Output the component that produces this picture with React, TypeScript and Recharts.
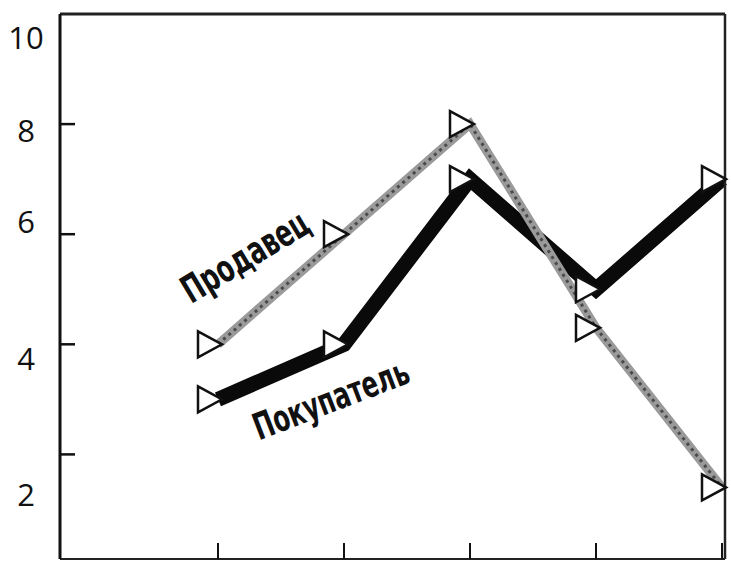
import React from 'react';
import { LineChart, Line, XAxis, YAxis, ReferenceDot, ReferenceLine } from 'recharts';

const categories = ['1', '2', '3', '4', '5'];
const buyerValues = [3, 4, 7, 5, 7];
const sellerValues = [4, 6, 8, 4.3, 1.4];
const yTicks = [2, 4, 6, 8, 10];
const sellerLabel = 'Продавец';
const buyerLabel = 'Покупатель';

const data = categories.map((c, i) => ({ cat: c, buyer: buyerValues[i], seller: sellerValues[i] }));

const labelOffsets: Record<number, number> = { 10: 23, 8: 6, 6: -13, 4: 14, 2: 40 };
const PLOT_LEFT = 60;
const PLOT_BOTTOM = 559;

const YTick = (props: any) => {
  const v = props.payload.value;
  const ty = props.y;
  return (
    <g>
      {v !== 10 && <line x1={PLOT_LEFT} x2={PLOT_LEFT + 15} y1={ty} y2={ty} stroke="#111" strokeWidth={2.5} />}
      <text x={26} y={ty + (labelOffsets[v] ?? 0)} textAnchor="middle" dominantBaseline="central"
        fontFamily="'Open Sans', sans-serif" fontSize={31} fill="#111">{String(v)}</text>
    </g>
  );
};

const XTick = (props: any) => (
  <line x1={props.x} x2={props.x} y1={PLOT_BOTTOM} y2={PLOT_BOTTOM - 16} stroke="#111" strokeWidth={2} />
);

const Tri = (props: any) => {
  const { cx, cy, index } = props;
  if (cx == null || cy == null) return <g key={'k' + index} />;
  const pts = `${cx + 4},${cy} ${cx - 20},${cy - 13} ${cx - 20},${cy + 13}`;
  return <polygon key={'t' + index} points={pts} fill="#fff" stroke="#111" strokeWidth={2.5} strokeLinejoin="miter" />;
};

const RotText = (text: string, dx: number, angle: number, size: number, sx: number) => (props: any) => {
  const x = props.cx + dx;
  const y = props.cy;
  return (
    <g transform={`translate(${x}, ${y}) rotate(${angle}) scale(${sx}, 1)`}>
      <text x={0} y={0} textAnchor="middle" dominantBaseline="central"
        fontFamily="'DejaVu Sans Condensed', 'DejaVu Sans', sans-serif" fontWeight="bold" fontSize={size} fill="#111">{text}</text>
    </g>
  );
};

export default function App() {
  return (
    <div style={{ position: 'absolute', left: 0, top: 0, width: 731, height: 561, background: '#fff' }}>
      <LineChart width={731} height={561} data={data} margin={{ top: 14, right: 5, bottom: 1, left: 0 }}>
        <XAxis dataKey="cat" type="category" padding={{ left: 158, right: 3 }} height={1}
          tick={<XTick />} tickLine={false}
          axisLine={{ stroke: '#222', strokeWidth: 2 }} />
        <YAxis domain={[0.1, 10]} ticks={yTicks} width={60} allowDataOverflow
          tick={<YTick />} tickLine={false}
          axisLine={{ stroke: '#111', strokeWidth: 3 }} />
        <YAxis yAxisId="r" orientation="right" width={1} domain={[0, 10]} tick={false} tickLine={false}
          axisLine={{ stroke: '#222', strokeWidth: 2.5 }} />
        <ReferenceLine y={10} stroke="#222" strokeWidth={3} />
        <Line dataKey="buyer" stroke="#0a0a0a" strokeWidth={15} strokeLinejoin="miter" isAnimationActive={false} dot={false} activeDot={false} />
        <Line dataKey="seller" stroke="#9a9a9a" strokeWidth={9} isAnimationActive={false} dot={false} activeDot={false} />
        <Line dataKey="seller" stroke="#4a4a4a" strokeWidth={3} strokeDasharray="3 4" isAnimationActive={false} dot={false} activeDot={false} />
        <Line dataKey="buyer" stroke="none" isAnimationActive={false} dot={<Tri />} activeDot={false} />
        <Line dataKey="seller" stroke="none" isAnimationActive={false} dot={<Tri />} activeDot={false} />
        <ReferenceDot x="1" y={5.6} r={0} shape={RotText(sellerLabel, 27, -31, 38, 0.72)} />
        <ReferenceDot x="2" y={3.0} r={0} shape={RotText(buyerLabel, -13, -21, 37, 0.72)} />
      </LineChart>
    </div>
  );
}
